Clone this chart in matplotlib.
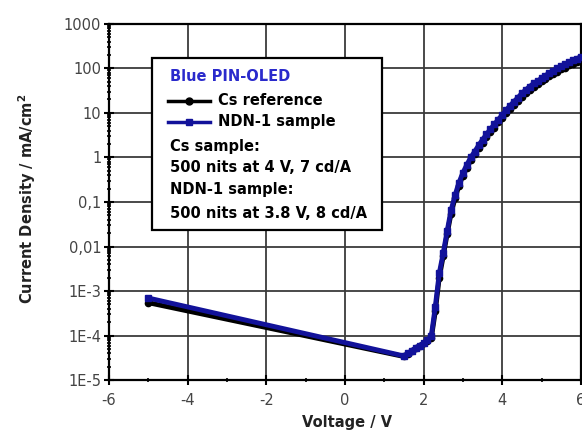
import matplotlib
matplotlib.use("Agg")
import matplotlib.pyplot as plt
from matplotlib.ticker import LogLocator, NullFormatter, FixedLocator
from matplotlib.patches import Rectangle
from matplotlib.lines import Line2D

plt.rcParams['font.family'] = ['DejaVu Sans']

# ---- data ----
voltage = [-5.0, 1.5, 1.6, 1.7, 1.8, 1.9, 2.0, 2.1, 2.2, 2.3, 2.4, 2.5, 2.6, 2.7, 2.8, 2.9,
           3.0, 3.1, 3.2, 3.3, 3.4, 3.5, 3.6, 3.7, 3.8, 3.9, 4.0, 4.1, 4.2, 4.3, 4.4, 4.5,
           4.6, 4.7, 4.8, 4.9, 5.0, 5.1, 5.2, 5.3, 5.4, 5.5, 5.6, 5.7, 5.8, 5.9, 6.0]
cs_reference = [5.5e-4, 3.4e-5, 3.9e-5, 4.5e-5, 5.2e-5, 5.9e-5, 6.7e-5, 7.6e-5, 9.0e-5,
                3.5e-4, 2.0e-3, 6.0e-3, 1.9e-2, 5.5e-2, 0.12, 0.23,
                0.39, 0.59, 0.86, 1.17, 1.6, 2.15, 2.85, 3.7, 4.7, 6.1, 7.6, 9.8, 12.3, 15.3,
                18.7, 23, 28, 33, 39, 44, 51, 58, 67, 75, 85, 95, 104, 117, 128, 141, 155]
ndn1_sample = [7.0e-4, 3.5e-5, 4.0e-5, 4.6e-5, 5.3e-5, 6.0e-5, 6.8e-5, 7.8e-5, 1.0e-4,
               4.5e-4, 2.5e-3, 7.0e-3, 2.2e-2, 6.5e-2, 0.14, 0.27,
               0.45, 0.68, 1.0, 1.35, 1.86, 2.5, 3.3, 4.3, 5.5, 7.1, 8.9, 11.5, 14.5, 18,
               22, 27.5, 33, 39, 46, 52, 60, 69, 79, 89, 100, 112, 123, 138, 151, 166, 182]

x_ticks = [-6, -4, -2, 0, 2, 4, 6]
x_ticklabels = ["-6", "-4", "-2", "0", "2", "4", "6"]
y_ticks = [1e-5, 1e-4, 1e-3, 1e-2, 1e-1, 1, 10, 100, 1000]
y_ticklabels = ["1E-5", "1E-4", "1E-3", "0,01", "0,1", "1", "10", "100", "1000"]

legend_title = "Blue PIN-OLED"
series_names = ["Cs reference", "NDN-1 sample"]
notes = ["Cs sample:", "500 nits at 4 V, 7 cd/A", "NDN-1 sample:", "500 nits at 3.8 V, 8 cd/A"]

BLUE = "#12129a"

fig = plt.figure(figsize=(5.82, 4.33), dpi=100)
ax = fig.add_axes([0.187, 0.122, 0.811, 0.823])

ax.set_yscale('log')
ax.set_xlim(-6, 6)
ax.set_ylim(1e-5, 1000)

ax.grid(True, which='major', color='#3a3a3a', lw=1.3)
ax.set_axisbelow(True)

ax.plot(voltage, cs_reference, color='black', lw=3.5, marker='o', ms=4.5, zorder=3)
ax.plot(voltage, ndn1_sample, color=BLUE, lw=3.5, marker='s', ms=4.5, zorder=4)

ax.yaxis.set_major_locator(FixedLocator(y_ticks))
ax.set_yticklabels(y_ticklabels)
ax.yaxis.set_minor_locator(LogLocator(base=10, subs=range(2, 10), numticks=20))
ax.yaxis.set_minor_formatter(NullFormatter())
ax.set_xticks(x_ticks)
ax.set_xticklabels(x_ticklabels)
ax.set_xticks([-5, -3, -1, 1, 3, 5], minor=True)

ax.tick_params(axis='both', which='major', direction='inout', length=7, width=1.5,
               labelsize=10.5, labelcolor='#444444', pad=2)
ax.tick_params(axis='x', which='major', pad=6)
ax.tick_params(axis='both', which='minor', direction='inout', length=3, width=1.2)
ax.tick_params(axis='y', which='both', right=False)

for s in ax.spines.values():
    s.set_linewidth(1.6)
    s.set_color('black')

ax.set_xlabel("Voltage / V", fontsize=10.5, fontweight='bold', color='#222222', va='center')
ax.xaxis.set_label_coords(0.505, -0.118)
ax.set_ylabel("Current Density / mA/cm$^\\mathbf{2}$", fontsize=10.5, fontweight='bold',
              color='#222222', va='center')
ax.yaxis.set_label_coords(-0.172, 0.51)

# legend box
box = Rectangle((0.091, 0.421), 0.487, 0.483, transform=ax.transAxes, facecolor='white',
                edgecolor='black', lw=1.6, zorder=5)
ax.add_patch(box)
tx = 0.13
def yfrac(py):
    return (380 - py) / 356.0
ax.text(tx, yfrac(77), legend_title, transform=ax.transAxes, color='#2a2acc', fontsize=10.5,
        fontweight='bold', va='center', zorder=6)
for name, col, mk, py in [(series_names[0], 'black', 'o', 101), (series_names[1], BLUE, 's', 122)]:
    ax.add_line(Line2D([0.125, 0.215], [yfrac(py)] * 2, transform=ax.transAxes, color=col,
                       lw=2.5, zorder=6))
    ax.add_line(Line2D([0.17], [yfrac(py)], transform=ax.transAxes, color=col, marker=mk,
                       ms=5, zorder=6))
    ax.text(0.232, yfrac(py), name, transform=ax.transAxes, fontsize=10.5, fontweight='bold',
            va='center', zorder=6)
for note, py in zip(notes, [147, 168, 190, 213]):
    ax.text(tx, yfrac(py), note, transform=ax.transAxes, fontsize=10.5, fontweight='bold',
            va='center', zorder=6)

fig.savefig("out.png", dpi=100)
